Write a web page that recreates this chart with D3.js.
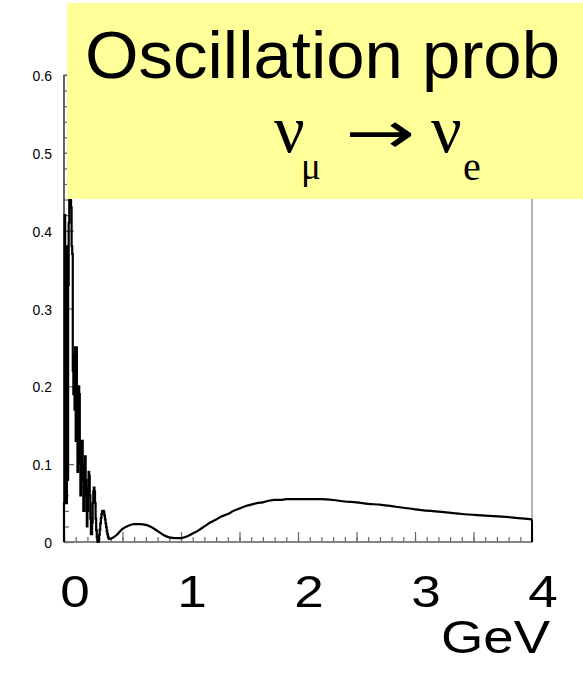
<!DOCTYPE html>
<html>
<head>
<meta charset="utf-8">
<script src="https://cdn.jsdelivr.net/npm/d3@7"></script>
<style>
  html, body { margin: 0; padding: 0; background: #ffffff; }
  svg { display: block; }
</style>
</head>
<body>
<script>
// ---------- data ----------
// Fine-binned low-energy part (histogram, bin width 0.005 GeV starting at 0 GeV)
const lowBinWidth = 0.005;
const lowProb = [
  0.05, 0.42, 0.16, 0.36, 0.05, 0.38, 0.08, 0.33, 0.41, 0.44,
  0.44, 0.44, 0.43, 0.38, 0.37, 0.22, 0.19, 0.24, 0.17, 0.25,
  0.13, 0.25, 0.18, 0.09, 0.14, 0.20, 0.19, 0.10, 0.06, 0.09,
  0.13, 0.13, 0.08, 0.04, 0.06, 0.10, 0.11, 0.08, 0.04, 0.02,
  0.04, 0.07, 0.09, 0.085, 0.06, 0.03, 0.01, 0.01, 0.025, 0.05,
  0.065, 0.07, 0.065, 0.05, 0.03, 0.015, 0.006, 0.001, 0.0, 0.003,
  0.009, 0.016, 0.024, 0.031, 0.036, 0.039, 0.040, 0.040, 0.038, 0.034,
  0.029, 0.024, 0.019, 0.014, 0.010, 0.007, 0.005, 0.004, 0.004, 0.004
];
// Smooth higher-energy part
const highEnergy = [0.40, 0.45, 0.50, 0.55, 0.60, 0.65, 0.70, 0.75, 0.80, 0.85,
  0.90, 0.95, 1.00, 1.05, 1.10, 1.15, 1.20, 1.25, 1.30, 1.35,
  1.40, 1.45, 1.50, 1.55, 1.60, 1.65, 1.70, 1.75, 1.80, 1.85,
  1.90, 2.00, 2.10, 2.20, 2.30, 2.40, 2.50, 2.60, 2.70, 2.80,
  2.90, 3.00, 3.20, 3.40, 3.60, 3.80, 4.00];
const highProb = [0.004, 0.009, 0.017, 0.021, 0.023, 0.023, 0.022, 0.019, 0.014, 0.009,
  0.006, 0.005, 0.005, 0.007, 0.011, 0.015, 0.020, 0.025, 0.029, 0.033,
  0.036, 0.040, 0.043, 0.046, 0.048, 0.050, 0.051, 0.053, 0.054, 0.054,
  0.055, 0.055, 0.055, 0.055, 0.054, 0.052, 0.051, 0.049, 0.048, 0.046,
  0.044, 0.042, 0.039, 0.036, 0.034, 0.032, 0.029];

const xMajorTicks = [0, 0.5, 1, 1.5, 2, 2.5, 3, 3.5, 4];
const xMinorTicks = d3.range(0, 41).map(i => i / 10);
const xTickLabels = ["0", "1", "2", "3", "4"];
const xTickLabelValues = [0, 1, 2, 3, 4];
const yMajorTicks = [0, 0.1, 0.2, 0.3, 0.4, 0.5, 0.6];
const yMinorTicks = d3.range(0, 31).map(i => i / 50);
const yTickLabels = ["0", "0.1", "0.2", "0.3", "0.4", "0.5", "0.6"];

// ---------- layout ----------
const W = 583, H = 673;
const svg = d3.select("body").append("svg").attr("width", W).attr("height", H);

const x = d3.scaleLinear().domain([0, 4]).range([64, 532]);
const y = d3.scaleLinear().domain([0, 0.6]).range([542, 75]);

// frame
svg.append("rect")
  .attr("x", x(0)).attr("y", y(0.6))
  .attr("width", x(4) - x(0)).attr("height", y(0) - y(0.6))
  .attr("fill", "none").attr("stroke", "#8a8a8a").attr("stroke-width", 1.3);

// x ticks (pointing up)
const gxMinor = svg.append("g").attr("transform", `translate(0,${y(0)})`)
  .call(d3.axisBottom(x).tickValues(xMinorTicks).tickSize(-5).tickFormat(""));
const gxMajor = svg.append("g").attr("transform", `translate(0,${y(0)})`)
  .call(d3.axisBottom(x).tickValues(xMajorTicks).tickSize(-10).tickFormat(""));
// y ticks (pointing right)
const gyMinor = svg.append("g").attr("transform", `translate(${x(0)},0)`)
  .call(d3.axisLeft(y).tickValues(yMinorTicks).tickSize(-5).tickFormat(""));
const gyMajor = svg.append("g").attr("transform", `translate(${x(0)},0)`)
  .call(d3.axisLeft(y).tickValues(yMajorTicks).tickSize(-10).tickFormat(""));
[gxMinor, gxMajor, gyMinor, gyMajor].forEach(g => {
  g.select(".domain").remove();
  g.selectAll("line").attr("stroke", "#666").attr("stroke-width", 1.2);
});
// axis lines
svg.append("line").attr("x1", x(0)).attr("x2", x(4)).attr("y1", y(0)).attr("y2", y(0))
  .attr("stroke", "#777").attr("stroke-width", 1.6);
svg.append("line").attr("x1", x(0)).attr("x2", x(0)).attr("y1", y(0)).attr("y2", y(0.6))
  .attr("stroke", "#444").attr("stroke-width", 1.4);

// y tick labels
svg.append("g").selectAll("text").data(yMajorTicks).join("text")
  .attr("x", 52).attr("y", d => y(d) + 1)
  .attr("text-anchor", "end").attr("dominant-baseline", "central")
  .attr("font-family", "Liberation Sans, Arial, sans-serif")
  .attr("font-size", 14).attr("fill", "#000")
  .text((d, i) => yTickLabels[i]);

// ---------- curve ----------
const lowPts = [[0, 0]];
lowProb.forEach((v, i) => {
  lowPts.push([i * lowBinWidth, v]);
  lowPts.push([(i + 1) * lowBinWidth, v]);
});
const stepLine = d3.line().x(d => x(d[0])).y(d => y(d[1]));
svg.append("path").attr("d", stepLine(lowPts))
  .attr("fill", "none").attr("stroke", "#000").attr("stroke-width", 2.2)
  .attr("stroke-linejoin", "miter");

const highPts = highEnergy.map((e, i) => [e, highProb[i]]);
const smoothLine = d3.line().x(d => x(d[0])).y(d => y(d[1])).curve(d3.curveMonotoneX);
svg.append("path").attr("d", smoothLine(highPts))
  .attr("fill", "none").attr("stroke", "#000").attr("stroke-width", 2.2);
// final histogram edge down to zero
const last = highPts[highPts.length - 1];
svg.append("path").attr("d", stepLine([last, [last[0], 0]]))
  .attr("fill", "none").attr("stroke", "#000").attr("stroke-width", 2);

// ---------- title box ----------
svg.append("rect").attr("x", 67).attr("y", 3).attr("width", W - 67).attr("height", 196)
  .attr("fill", "#ffff99");
svg.append("text").attr("x", 85).attr("y", 78)
  .attr("font-family", "Liberation Sans, Arial, sans-serif").attr("font-size", 66)
  .attr("textLength", 475).attr("lengthAdjust", "spacingAndGlyphs")
  .attr("fill", "#000").text("Oscillation prob");

const serif = "Liberation Serif, Times New Roman, serif";
const formula = svg.append("text").attr("font-family", serif).attr("fill", "#000");
formula.append("tspan").attr("x", 274).attr("y", 152).attr("font-size", 68).text("ν");
formula.append("tspan").attr("x", 301).attr("y", 179).attr("font-size", 37).text("μ");
formula.append("tspan").attr("x", 431).attr("y", 152).attr("font-size", 68).text("ν");
formula.append("tspan").attr("x", 463).attr("y", 180).attr("font-size", 40).text("e");
svg.append("text").attr("x", 345).attr("y", 152.5)
  .attr("font-family", "DejaVu Sans").attr("font-size", 58)
  .attr("textLength", 70).attr("lengthAdjust", "spacingAndGlyphs")
  .attr("fill", "#000").text("→");

// ---------- big x labels ----------
const big = svg.append("g").attr("font-family", "Liberation Sans, Arial, sans-serif")
  .attr("font-size", 45).attr("fill", "#000");
big.selectAll("text").data(xTickLabelValues).join("text")
  .attr("transform", d => `translate(${x(d) + 11},607) scale(1.18,1)`)
  .attr("text-anchor", "middle")
  .text((d, i) => xTickLabels[i]);
svg.append("text").attr("x", 441).attr("y", 653)
  .attr("font-family", "Liberation Sans, Arial, sans-serif").attr("font-size", 46)
  .attr("textLength", 109).attr("lengthAdjust", "spacingAndGlyphs")
  .attr("fill", "#000").text("GeV");
</script>
</body>
</html>
